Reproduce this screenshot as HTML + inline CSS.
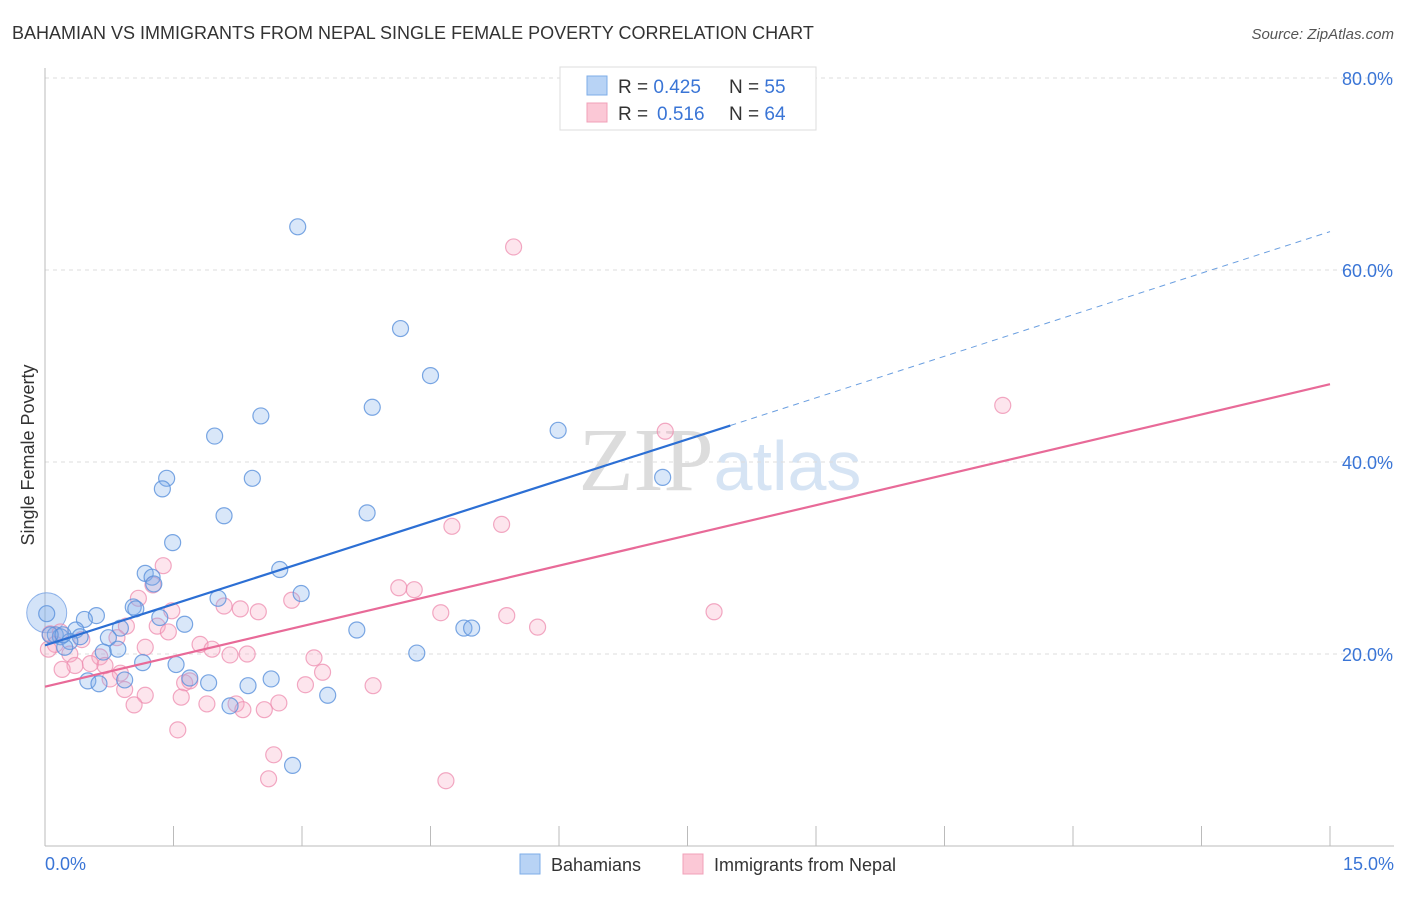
<!DOCTYPE html>
<html><head><meta charset="utf-8"><style>
body{margin:0;background:#fff;font-family:"Liberation Sans",sans-serif;}
svg text{font-family:"Liberation Sans",sans-serif;}
</style></head><body>
<svg width="1406" height="892" xmlns="http://www.w3.org/2000/svg" id="chart">
<text x="12" y="39" font-size="18" fill="#333">BAHAMIAN VS IMMIGRANTS FROM NEPAL SINGLE FEMALE POVERTY CORRELATION CHART</text>
<text x="1394" y="39" font-size="15" fill="#555" font-style="italic" text-anchor="end">Source: ZipAtlas.com</text>
<text x="720" y="490" font-size="90" fill="#e6e6e6" text-anchor="middle" font-family="Liberation Serif"><tspan font-family="Liberation Serif" fill="#dcdcdc">ZIP</tspan><tspan font-family="Liberation Sans" font-size="70" fill="#d6e4f4">atlas</tspan></text>
<g id="grid"></g>
<line x1="45" y1="68" x2="45" y2="846" stroke="#bbb"/>
<line x1="45" y1="846" x2="1394" y2="846" stroke="#bbb"/>
<g id="xticks"></g>
<text x="45" y="870" font-size="18" fill="#3a75d6">0.0%</text>
<text x="1394" y="870" font-size="18" fill="#3a75d6" text-anchor="end">15.0%</text>
<text transform="translate(34,455) rotate(-90)" font-size="18" fill="#333" text-anchor="middle">Single Female Poverty</text>
<g id="pts"></g>
<g id="lines"></g>
<g>
<rect x="560" y="67" width="256" height="63" fill="#fff" stroke="#ddd"/>
<rect x="587" y="76" width="20" height="19" fill="#b8d3f5" stroke="#7eaee8"/>
<rect x="587" y="103" width="20" height="19" fill="#fbc8d6" stroke="#f0a0b8"/>
<text x="618" y="93" font-size="19" fill="#333">R = <tspan fill="#3a75d6">0.425</tspan><tspan x="729">N = </tspan><tspan fill="#3a75d6">55</tspan></text>
<text x="618" y="120" font-size="19" fill="#333">R = <tspan x="657" fill="#3a75d6">0.516</tspan><tspan x="729">N = </tspan><tspan fill="#3a75d6">64</tspan></text>
</g>
<g>
<rect x="520" y="854" width="20" height="20" fill="#b8d3f5" stroke="#7eaee8"/>
<text x="551" y="871" font-size="18" fill="#333">Bahamians</text>
<rect x="683" y="854" width="20" height="20" fill="#fbc8d6" stroke="#f0a0b8"/>
<text x="714" y="871" font-size="18" fill="#333">Immigrants from Nepal</text>
</g>
</svg>
<script>
const yTicks=[20,40,60,80];
const xTickVals=[0,1.5,3,4.5,6,7.5,9,10.5,12,13.5,15];
const blueX=[2.95,4.15,4.5,3.82,2.52,1.98,5.99,1.42,2.42,1.37,7.21,2.09,3.76,1.49,2.74,1.17,1.25,1.27,2.99,2.02,1.03,1.06,0.6,0.46,1.63,1.34,0.88,0.36,4.89,4.98,3.64,0.41,0.74,0.12,0.02,0.18,0.29,0.23,0.68,0.85,1.14,4.34,1.53,1.69,2.64,0.5,0.63,0.93,1.91,2.37,3.3,2.16,2.89,0.06,0.21];
const blueY=[64.5,53.9,49,45.7,44.8,42.7,43.3,38.3,38.3,37.2,38.4,34.4,34.7,31.6,28.8,28.4,28,27.3,26.3,25.8,24.9,24.7,24,23.6,23.1,23.8,22.7,22.5,22.7,22.7,22.5,21.8,21.7,22,24.2,21.8,21.3,20.7,20.2,20.5,19.1,20.1,18.9,17.5,17.4,17.2,16.9,17.3,17,16.7,15.7,14.6,8.4,22,22];
const pinkX=[5.47,11.18,7.24,4.75,5.33,1.38,1.26,1.09,4.13,4.31,2.88,2.09,2.28,2.49,1.48,4.62,5.39,7.81,0.95,1.31,5.75,1.44,0.06,0.18,0.84,0.43,1.81,1.95,1.17,2.16,2.36,3.14,0.12,0.29,0.64,0.53,0.35,0.2,0.88,3.24,0.76,1.63,1.69,3.83,3.04,0.93,1.17,1.59,1.04,1.89,2.23,2.31,2.56,2.73,1.55,2.67,2.61,4.68,0.04,0.7];
const pinkY=[62.4,45.9,43.2,33.3,33.5,29.2,27.2,25.8,26.9,26.7,25.6,25,24.7,24.4,24.5,24.3,24,24.4,22.9,22.9,22.8,22.3,22.1,22.3,21.7,21.5,21,20.5,20.7,19.9,20,19.6,21,20,19.7,19,18.8,18.4,18,18.1,17.4,17,17.2,16.7,16.8,16.3,15.7,15.5,14.7,14.8,14.8,14.2,14.2,14.9,12.1,9.5,7,6.8,20.5,18.8];
const bigBubble=[0.02,24.3];
const blueLine=[0,20.9,8.0,43.8];
const blueDash=[8.0,43.8,15,64];
const pinkLine=[0,16.6,15,48.1];
const NS='http://www.w3.org/2000/svg';
const X=v=>45+v*(1285/15), Y=v=>846-v*9.6;
function mk(tag,attrs,parent){const e=document.createElementNS(NS,tag);for(const k in attrs)e.setAttribute(k,attrs[k]);document.getElementById(parent).appendChild(e);return e;}
yTicks.forEach(t=>{
 const l=mk('line',{x1:45,x2:1394,y1:Y(t),y2:Y(t),stroke:'#ddd','stroke-dasharray':'4,4'},'grid');
 
 
 const tx=mk('text',{x:1393,y:Y(t)+7,'font-size':18,fill:'#3a75d6','text-anchor':'end'},'grid');
 tx.textContent=t.toFixed(1)+'%';
 
 
});
xTickVals.forEach(t=>{
 const l=mk('line',{x1:X(t),x2:X(t),y1:826,y2:846,stroke:'#bbb'},'xticks');
 
 
});
const bb=mk('circle',{cx:X(bigBubble[0]),cy:Y(bigBubble[1]),r:20,fill:'rgba(130,175,235,0.35)',stroke:'rgba(100,150,225,0.7)'},'pts');


pinkX.forEach((x,i)=>{
 const c=mk('circle',{cx:X(x),cy:Y(pinkY[i]),r:8,fill:'rgba(247,170,195,0.3)',stroke:'rgba(238,140,175,0.75)','stroke-width':1.2},'pts');
 
 
});
blueX.forEach((x,i)=>{
 const c=mk('circle',{cx:X(x),cy:Y(blueY[i]),r:8,fill:'rgba(130,175,235,0.3)',stroke:'rgba(90,145,220,0.8)','stroke-width':1.2},'pts');
 
 
});
const l1=mk('line',{x1:X(blueLine[0]),y1:Y(blueLine[1]),x2:X(blueLine[2]),y2:Y(blueLine[3]),stroke:'#2c6fd4','stroke-width':2.2},'lines');


const l2=mk('line',{x1:X(blueDash[0]),y1:Y(blueDash[1]),x2:X(blueDash[2]),y2:Y(blueDash[3]),stroke:'#6b9fe0','stroke-width':1,'stroke-dasharray':'6,5'},'lines');


const l3=mk('line',{x1:X(pinkLine[0]),y1:Y(pinkLine[1]),x2:X(pinkLine[2]),y2:Y(pinkLine[3]),stroke:'#e86a98','stroke-width':2.2},'lines');


</script>
</body></html>
